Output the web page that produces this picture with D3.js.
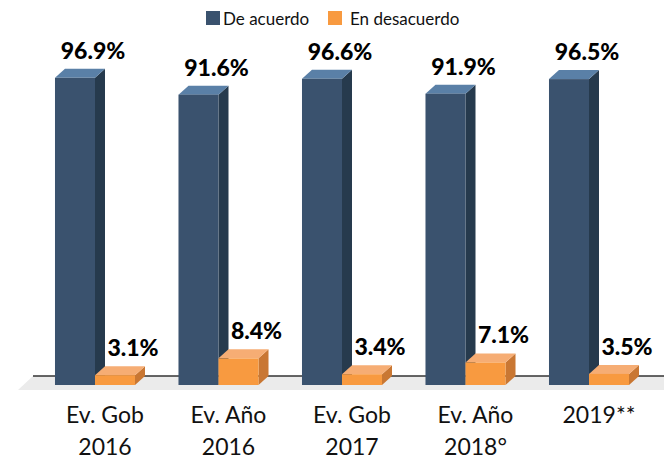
<!DOCTYPE html>
<html>
<head>
<meta charset="utf-8">
<style>
  body { margin: 0; background: #fff; }
  svg text { font-family: Lato, sans-serif; }
</style>
</head>
<body>
<div id="chart"></div>
<script src="https://d3js.org/d3.v7.min.js"></script>
<script>
  var categories = ["Ev. Gob|2016", "Ev. Año|2016", "Ev. Gob|2017", "Ev. Año|2018°", "2019**"];
  var seriesNames = ["De acuerdo", "En desacuerdo"];
  var deAcuerdo = [96.9, 91.6, 96.6, 91.9, 96.5];
  var enDesacuerdo = [3.1, 8.4, 3.4, 7.1, 3.5];

  var width = 664;
  var height = 461;
  var depthX = 10, depthY = 9;
  var colors = [
    { front: "#3a526e", top: "#5a80a7", side: "#263a4d" },
    { front: "#f89a40", top: "#f6ad74", side: "#c97733" }
  ];

  var svg = d3.select("#chart")
    .append("svg")
    .attr("width", width)
    .attr("height", height);

  var x = d3.scaleBand()
    .domain(categories)
    .range([33.25, 650.75])
    .paddingInner(0.352)
    .paddingOuter(0.176);

  var xInner = d3.scaleBand()
    .domain(seriesNames)
    .range([0, x.bandwidth()]);

  var y = d3.scaleLinear()
    .domain([0, 100])
    .range([385, 68]);

  // floor
  var floorBack = 376, floorFront = 390;
  svg.append("polygon")
    .attr("points", [[33, floorBack], [width, floorBack], [width, floorFront], [18, floorFront]].join(" "))
    .attr("fill", "#ebebeb");
  svg.append("line")
    .attr("x1", 33).attr("y1", floorBack)
    .attr("x2", width).attr("y2", floorBack)
    .attr("stroke", "#333").attr("stroke-width", 1.5);

  var rows = [];
  categories.forEach(function(c, i) {
    rows.push({ cat: c, s: 0, v: deAcuerdo[i] });
    rows.push({ cat: c, s: 1, v: enDesacuerdo[i] });
  });

  // bars: side, top, front (blue then orange so orange front covers blue side)
  rows.forEach(function(r) {
    var x0 = x(r.cat) + xInner(seriesNames[r.s]);
    var w = xInner.bandwidth();
    var yt = y(r.v), yb = y(0);
    var c = colors[r.s];
    var g = svg.append("g");
    g.append("polygon")
      .attr("points", [[x0 + w, yt], [x0 + w + depthX, yt - depthY], [x0 + w + depthX, yb - depthY], [x0 + w, yb]].join(" "))
      .attr("fill", c.side);
    g.append("polygon")
      .attr("points", [[x0, yt], [x0 + depthX, yt - depthY], [x0 + w + depthX, yt - depthY], [x0 + w, yt]].join(" "))
      .attr("fill", c.top);
    g.append("rect")
      .attr("x", x0).attr("y", yt)
      .attr("width", w).attr("height", yb - yt)
      .attr("fill", c.front);
  });

  // value labels
  rows.forEach(function(r) {
    var x0 = x(r.cat) + xInner(seriesNames[r.s]);
    svg.append("text")
      .attr("x", x0 + xInner.bandwidth() / 2 + 18)
      .attr("y", y(r.v) - depthY - 10)
      .attr("text-anchor", "middle")
      .attr("font-size", "23px")
      .attr("font-weight", 900)
      .attr("fill", "#000")
      .text(r.v.toFixed(1) + "%");
  });

  // category labels
  categories.forEach(function(c) {
    var lines = c.split("|");
    var cx = x(c) + x.bandwidth() / 2 + 10;
    var t = svg.append("text")
      .attr("x", cx)
      .attr("y", 423)
      .attr("text-anchor", "middle")
      .attr("font-size", "23px")
      .attr("fill", "#111");
    lines.forEach(function(l, i) {
      t.append("tspan")
        .attr("x", cx)
        .attr("dy", i === 0 ? 0 : 32)
        .text(l);
    });
  });

  // legend
  var legendX = [206, 328];
  seriesNames.forEach(function(s, i) {
    svg.append("rect")
      .attr("x", legendX[i]).attr("y", 11)
      .attr("width", 14).attr("height", 14)
      .attr("fill", colors[i].front);
    svg.append("text")
      .attr("x", legendX[i] + 17 + (i === 1 ? 5 : 0))
      .attr("y", 25)
      .attr("font-size", "17px")
      .attr("fill", "#111")
      .text(s);
  });
</script>
</body>
</html>
